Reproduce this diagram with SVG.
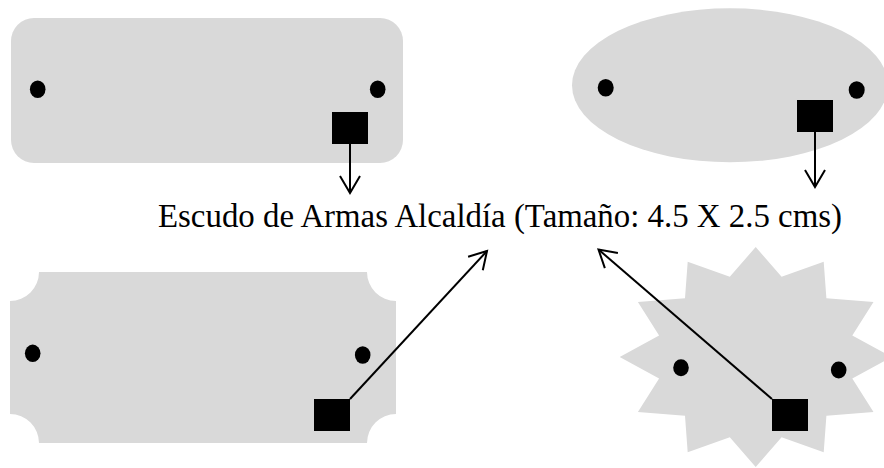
<svg xmlns="http://www.w3.org/2000/svg" width="884" height="468" viewBox="0 0 884 468">
<style>
.plate{fill:#d9d9d9;stroke:none}
.hole{fill:#000}
.mark{fill:#000}
.conn{stroke:#000;stroke-width:2;fill:none}
.label{font-family:"Liberation Serif","Times New Roman",serif;font-size:34px;fill:#000}
</style>
<defs>
<marker id="open" markerUnits="userSpaceOnUse" markerWidth="24" markerHeight="24" refX="0" refY="0" viewBox="-20 -12 22 24" orient="auto" overflow="visible">
<path d="M -17 -10 L 0 0 L -17 10" fill="none" stroke="#000" stroke-width="2"/>
</marker>
</defs>
<g id="plate-rounded">
<rect class="plate" x="11" y="18" width="392" height="145" rx="23" ry="23"/>
<ellipse class="hole" cx="37.7" cy="89.3" rx="7.8" ry="8.8"/>
<ellipse class="hole" cx="377.7" cy="89.3" rx="7.8" ry="8.8"/>
<rect class="mark" x="332" y="112" width="36" height="32"/>
</g>
<g id="plate-oval">
<ellipse class="plate" cx="730" cy="85.3" rx="158" ry="77"/>
<ellipse class="hole" cx="605.7" cy="87.7" rx="8" ry="8.8"/>
<ellipse class="hole" cx="856.7" cy="90" rx="8" ry="8.8"/>
<rect class="mark" x="797" y="100" width="36" height="32"/>
</g>
<g id="plate-notched">
<path class="plate" d="M 39 272 L 367 272 A 29 29 0 0 0 396 301 L 396 414 A 29 29 0 0 0 367 443 L 39 443 A 29 29 0 0 0 10 414 L 10 301 A 29 29 0 0 0 39 272 Z"/>
<ellipse class="hole" cx="32.7" cy="353.3" rx="7.8" ry="8.7"/>
<ellipse class="hole" cx="362.7" cy="355" rx="7.8" ry="8.7"/>
<rect class="mark" x="314" y="399" width="36" height="32"/>
</g>
<g id="plate-star">
<polygon class="plate" points="755.7,247 781.6,276.8 823.7,261.7 826.4,298.3 873.5,302 852.3,335.5 891.7,357 852.3,378.5 873.5,412 826.4,415.7 823.7,452.3 781.6,437.2 755.7,467 729.8,437.2 687.7,452.3 685,415.7 637.9,412 659.1,378.5 619.7,357 659.1,335.5 637.9,302 685,298.3 687.7,261.7 729.8,276.8"/>
<ellipse class="hole" cx="681" cy="367.7" rx="7.8" ry="8.5"/>
<ellipse class="hole" cx="838.7" cy="370" rx="7.8" ry="8.5"/>
<rect class="mark" x="772" y="399" width="36" height="32"/>
</g>
<g id="label">
<text class="label" x="158" y="227" textLength="684" lengthAdjust="spacingAndGlyphs">Escudo de Armas Alcaldía (Tamaño: 4.5 X 2.5 cms)</text>
</g>
<g id="connectors">
<line class="conn" x1="350" y1="144" x2="350" y2="193" marker-end="url(#open)"/>
<line class="conn" x1="815" y1="132" x2="815" y2="187" marker-end="url(#open)"/>
<line class="conn" x1="350" y1="399" x2="487" y2="251" marker-end="url(#open)"/>
<line class="conn" x1="772" y1="399" x2="598.5" y2="249.5" marker-end="url(#open)"/>
</g>
</svg>
